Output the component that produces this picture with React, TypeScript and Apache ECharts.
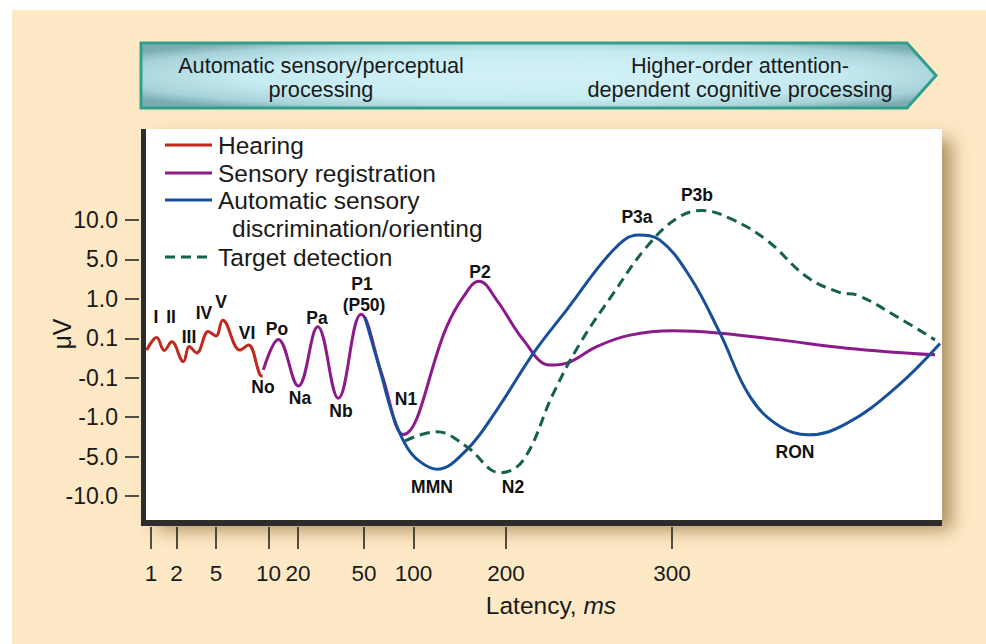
import React, { useEffect, useRef } from 'react';
import * as echarts from 'echarts';

// X axis: stylised latency axis (tick labels in ms at their positions along the axis, 0-100 units)
const xTickValues = [1, 2, 5, 10, 20, 50, 100, 200, 300];
const xTickPositions = [0.63, 3.83, 8.79, 15.39, 19.1, 27.39, 33.61, 45.23, 66.08];

// Y axis: ordinal amplitude levels
const yTickLabels = ['-10.0', '-5.0', '-1.0', '-0.1', '0.1', '1.0', '5.0', '10.0'];
const yTickLevels = [0, 1, 2, 3, 4, 5, 6, 7];

const seriesNames = [
  'Hearing',
  'Sensory registration',
  'Automatic sensory discrimination/orienting',
  'Target detection',
];

const hearing: number[][] = [
  [0.09, 3.7], [1.34, 4.02], [2.3, 3.69], [3.23, 3.91], [4.69, 3.41], [5.44, 3.79],
  [6.37, 3.63], [7.83, 4.17], [8.79, 4.06], [9.64, 4.46], [11.81, 3.7], [12.85, 3.83],
  [14.32, 3.07], [14.66, 3.04],
];

const sensoryRegistration: number[][] = [
  [14.74, 3.2], [16.62, 3.97], [19.13, 2.79], [21.57, 4.29], [24.16, 2.48], [27.01, 4.61],
  [29.65, 3.07], [32.32, 1.56], [37.77, 4.29], [39.86, 5.05], [41.83, 5.45],
  [44.06, 4.97], [47.4, 3.96], [50.75, 3.32], [52.85, 3.37], [56.62, 3.79], [60.8, 4.08],
  [66.24, 4.19], [72.11, 4.13], [79.65, 3.96], [88.03, 3.75], [99.12, 3.58],
];

const automaticDiscrimination: number[][] = [
  [27.51, 4.53], [29.4, 3.2], [31.07, 2.01], [32.75, 1.25], [34.42, 0.87], [36.52, 0.68],
  [40.29, 1.17], [44.06, 2.18], [48.66, 3.62], [52.85, 4.72], [58.71, 6.24], [61.85, 6.62],
  [64.57, 6.49], [68.34, 5.56], [72.11, 4.13], [75.88, 2.52], [79.65, 1.76], [83.2, 1.55],
  [88.03, 1.84], [94.31, 2.77], [99.75, 3.87],
];

const targetDetection: number[][] = [
  [32.54, 1.4], [36.52, 1.63], [40.29, 1.25], [44.47, 0.59], [47.4, 0.91], [51.17, 2.6],
  [54.52, 3.87], [58.71, 5.14], [62.9, 6.32], [66.67, 7.04], [69.81, 7.24], [73.37, 7.04],
  [77.98, 6.49], [83.0, 5.56], [87.19, 5.16], [89.28, 5.1], [94.31, 4.55], [99.12, 3.96],
];

const peakNames = ['I', 'II', 'III', 'IV', 'V', 'VI', 'No', 'Po', 'Na', 'Pa', 'Nb', 'P1', '(P50)', 'N1', 'P2', 'MMN', 'N2', 'P3a', 'P3b', 'RON'];
const peakPositions: number[][] = [
  [1.26, 4.54], [3.14, 4.54], [5.4, 4.03], [7.29, 4.64], [9.42, 4.92], [12.69, 4.13],
  [14.7, 2.76], [16.46, 4.24], [19.35, 2.49], [21.48, 4.51], [24.5, 2.16], [27.14, 5.38],
  [27.39, 4.84], [32.66, 2.46], [41.96, 5.68], [35.93, 0.23], [46.11, 0.23], [61.68, 7.08],
  [69.22, 7.63], [81.53, 1.12],
];

const colors = ['#c0281e', '#8c1a8a', '#174f9a', '#15604f'];
const FONT = '"Liberation Sans", Arial, Helvetica, sans-serif';
const INK = '#1a1a1a';

function buildOption() {
  const lineSeries = [hearing, sensoryRegistration, automaticDiscrimination, targetDetection].map((d, i) => ({
    type: 'line',
    name: seriesNames[i],
    data: d,
    smooth: 0.4,
    showSymbol: false,
    symbol: 'none',
    clip: false,
    z: 3 + i,
    lineStyle: { color: colors[i], width: 3, type: i === 3 ? [10, 6] : 'solid' },
  }));

  const legendRows = [
    { text: seriesNames[0], y: 145 },
    { text: seriesNames[1], y: 173 },
    { text: 'Automatic sensory', y: 200 },
    { text: 'Target detection', y: 257 },
  ];

  const graphic: any[] = [
    { type: 'rect', z: -20, shape: { x: 12, y: 10, width: 974, height: 634 }, style: { fill: '#fde9c6' }, silent: true },
    {
      type: 'rect', z: -10, shape: { x: 146, y: 129, width: 796, height: 391 },
      style: { fill: '#ffffff', shadowBlur: 18, shadowColor: 'rgba(120,85,30,0.6)', shadowOffsetX: 10, shadowOffsetY: 10 },
      silent: true,
    },
    { type: 'rect', z: 20, shape: { x: 141, y: 129, width: 5, height: 397 }, style: { fill: '#2c2c2c' }, silent: true },
    { type: 'rect', z: 20, shape: { x: 141, y: 520, width: 801, height: 6 }, style: { fill: '#2c2c2c' }, silent: true },
    {
      type: 'polygon', z: 1,
      shape: { points: [[141, 43], [907, 43], [936, 75.5], [907, 108], [141, 108]] },
      style: {
        fill: {
          type: 'radial', x: 0.5, y: 0.5, r: 0.62,
          colorStops: [
            { offset: 0, color: '#d3f2f8' },
            { offset: 0.6, color: '#c6ebf2' },
            { offset: 0.86, color: '#a6d2d8' },
            { offset: 1, color: '#7aadb3' },
          ],
        },
        stroke: '#2f9f8e', lineWidth: 3,
      },
      silent: true,
    },
    { type: 'text', z: 2, style: { text: 'Automatic sensory/perceptual\nprocessing', x: 321, y: 77, align: 'center', verticalAlign: 'middle', fontSize: 21.7, lineHeight: 24, fontFamily: FONT, fill: INK } },
    { type: 'text', z: 2, style: { text: 'Higher-order attention-\ndependent cognitive processing', x: 740, y: 77, align: 'center', verticalAlign: 'middle', fontSize: 21.7, lineHeight: 24, fontFamily: FONT, fill: INK } },
    { type: 'text', z: 2, rotation: Math.PI / 2, x: 62, y: 334, style: { text: 'μV', x: 0, y: 0, align: 'center', verticalAlign: 'middle', fontSize: 25, fontFamily: FONT, fill: INK } },
    {
      type: 'text', z: 2,
      style: {
        text: '{a|Latency, }{b|ms}', x: 551, y: 605, align: 'center', verticalAlign: 'middle',
        rich: {
          a: { fontSize: 24.5, fontFamily: FONT, fill: INK, color: INK },
          b: { fontSize: 24.5, fontFamily: FONT, fontStyle: 'italic', fill: INK, color: INK },
        },
      },
    },
  ];

  legendRows.forEach((r, i) => {
    graphic.push({
      type: 'line', z: 30,
      shape: { x1: 165, y1: r.y, x2: 212, y2: r.y },
      style: { stroke: colors[i], lineWidth: 3, lineDash: i === 3 ? [10, 6] : null },
    });
    graphic.push({
      type: 'text', z: 30,
      style: { text: r.text, x: 218, y: r.y, align: 'left', verticalAlign: 'middle', fontSize: 24.5, fontFamily: FONT, fill: INK },
    });
  });
  graphic.push({
    type: 'text', z: 30,
    style: { text: 'discrimination/orienting', x: 232, y: 228, align: 'left', verticalAlign: 'middle', fontSize: 24.5, fontFamily: FONT, fill: INK },
  });

  return {
    animation: false,
    backgroundColor: '#ffffff',
    grid: { left: 146, right: 44, top: 129, bottom: 124 },
    xAxis: {
      type: 'value', min: 0, max: 100,
      position: 'bottom',
      offset: 7,
      axisLine: { show: false, onZero: false },
      splitLine: { show: false },
      axisTick: { show: true, inside: false, customValues: xTickPositions, length: 22, lineStyle: { color: INK, width: 1.5 } },
      axisLabel: {
        show: true, customValues: xTickPositions, margin: 35, fontSize: 22.5, fontFamily: FONT, color: INK,
        formatter: (v: number) => {
          const i = xTickPositions.findIndex((p) => Math.abs(p - v) < 1e-6);
          return i >= 0 ? String(xTickValues[i]) : '';
        },
      },
    },
    yAxis: {
      type: 'value', min: -0.61, max: 9.31,
      position: 'left',
      offset: 7,
      axisLine: { show: false, onZero: false },
      splitLine: { show: false },
      axisTick: { show: true, inside: false, customValues: yTickLevels, length: 14, lineStyle: { color: INK, width: 1.5 } },
      axisLabel: {
        show: true, customValues: yTickLevels, margin: 21, fontSize: 23, fontFamily: FONT, color: INK,
        formatter: (v: number) => {
          const i = yTickLevels.findIndex((p) => Math.abs(p - v) < 1e-6);
          return i >= 0 ? yTickLabels[i] : '';
        },
      },
    },
    graphic,
    series: [
      ...lineSeries,
      {
        type: 'scatter',
        name: 'Peaks',
        symbolSize: 0,
        silent: true,
        clip: false,
        z: 10,
        itemStyle: { opacity: 1 },
        data: peakNames.map((n, i) => ({ name: n, value: peakPositions[i] })),
        label: {
          show: true, position: 'inside', formatter: '{b}', fontSize: 17.5, fontWeight: 'bold',
          fontFamily: FONT, color: '#111111', opacity: 1,
        },
      },
    ],
  };
}

export default function App() {
  const ref = useRef<HTMLDivElement>(null);
  useEffect(() => {
    if (!ref.current) return;
    const chart = echarts.init(ref.current, null, { renderer: 'svg' });
    chart.setOption(buildOption() as any);
    return () => chart.dispose();
  }, []);
  return (
    <div
      ref={ref}
      style={{ position: 'absolute', left: 0, top: 0, width: 986, height: 644 }}
    />
  );
}
